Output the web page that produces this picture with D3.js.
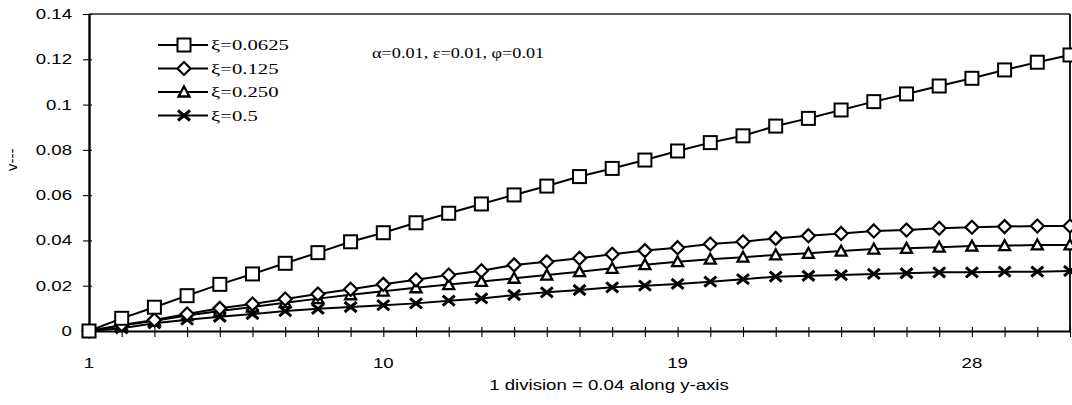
<!DOCTYPE html>
<html><head><meta charset="utf-8">
<script src="https://cdn.jsdelivr.net/npm/d3@7"></script>
<style>html,body{margin:0;padding:0;background:#fff;}svg{display:block;}</style>
</head><body>
<svg id="c" width="1072" height="405"></svg>
<script>
const categories = [1,2,3,4,5,6,7,8,9,10,11,12,13,14,15,16,17,18,19,20,21,22,23,24,25,26,27,28,29,30,31];
const xTickLabels = [1,10,19,28];
const yTickValues = [0,0.02,0.04,0.06,0.08,0.1,0.12,0.14];
const yTickLabels = ["0","0.02","0.04","0.06","0.08","0.1","0.12","0.14"];
const seriesNames = ["ξ=0.0625","ξ=0.125","ξ=0.250","ξ=0.5"];
const xi0625 = [0,0.0056,0.0105,0.0156,0.0206,0.0252,0.0299,0.0346,0.0394,0.0434,0.0478,0.052,0.0561,0.0601,0.064,0.0682,0.0718,0.0755,0.0795,0.0832,0.0862,0.0905,0.0939,0.0976,0.1013,0.1047,0.1082,0.1116,0.1153,0.1187,0.1219];
const xi125 = [0,0.0027,0.0049,0.0075,0.0100,0.0119,0.0141,0.0163,0.0184,0.0206,0.0226,0.0247,0.0266,0.0292,0.0306,0.0321,0.0339,0.0355,0.0368,0.0384,0.0394,0.0409,0.0421,0.0431,0.0442,0.0446,0.0454,0.0458,0.0461,0.0464,0.0464];
const xi250 = [0,0.0024,0.0045,0.0068,0.0088,0.0106,0.0125,0.0143,0.0160,0.0176,0.0191,0.0205,0.0219,0.0233,0.0247,0.0262,0.0277,0.0293,0.0306,0.0317,0.0326,0.0336,0.0343,0.0353,0.0362,0.0365,0.0370,0.0375,0.0377,0.0380,0.0380];
const xi5 = [0,0.0012,0.0034,0.0050,0.0063,0.0075,0.0088,0.0098,0.0106,0.0114,0.0122,0.0134,0.0144,0.0159,0.0171,0.0181,0.0193,0.0200,0.0208,0.0218,0.0229,0.0240,0.0244,0.0247,0.0252,0.0255,0.0259,0.0259,0.0262,0.0262,0.0265];
const annotation = "α=0.01, ε=0.01, φ=0.01";
const xTitle = "1 division = 0.04 along y-axis";
const yTitle = "v---";

const svg = d3.select("#c");
const L = 89, R = 1070, T = 14, B = 331;
const x = d3.scaleLinear().domain([1,31]).range([L,R]);
const y = d3.scaleLinear().domain([0,0.14]).range([B,T]);

function stretch(sel, f){ sel.each(function(){ const w=this.getComputedTextLength(); d3.select(this).attr("textLength", w*f).attr("lengthAdjust","spacingAndGlyphs"); }); return sel; }

// frame
svg.append("line").attr("x1",L).attr("x2",R).attr("y1",T).attr("y2",T).attr("stroke","#222").attr("stroke-width",1.3);
svg.append("line").attr("x1",R).attr("x2",R).attr("y1",T).attr("y2",B).attr("stroke","#000").attr("stroke-width",1.8);

// x axis
const xAxis = d3.axisBottom(x).tickValues(categories).tickSize(0).tickFormat("");
const gx = svg.append("g").attr("transform",`translate(0,${B})`).call(xAxis);
gx.select(".domain").attr("stroke","#000").attr("stroke-width",2);
gx.selectAll(".tick").append("line").attr("y1",-4).attr("y2",6).attr("stroke","#000").attr("stroke-width",1.1);
const xl = svg.append("g").selectAll("text").data(xTickLabels).join("text")
  .attr("x",d=>x(d)).attr("y",368).attr("text-anchor","middle")
  .attr("font-family","Liberation Sans, Arial, sans-serif").attr("font-size",14).attr("fill","#000").text(d=>d);
stretch(xl,1.33);

// y axis
const yAxis = d3.axisLeft(y).tickValues(yTickValues).tickSize(0).tickFormat("");
const gy = svg.append("g").attr("transform",`translate(${L},0)`).call(yAxis);
gy.select(".domain").attr("stroke","#000").attr("stroke-width",2.4);
gy.selectAll(".tick").append("line").attr("x1",-6).attr("x2",3).attr("stroke","#000").attr("stroke-width",1.1);
const yl = svg.append("g").selectAll("text").data(yTickValues).join("text")
  .attr("x",72).attr("y",d=>y(d)+5).attr("text-anchor","end")
  .attr("font-family","Liberation Sans, Arial, sans-serif").attr("font-size",14).attr("fill","#000")
  .text((d,i)=>yTickLabels[i]);
stretch(yl,1.33);

// titles
const xt = svg.append("text").attr("x",609).attr("y",390).attr("text-anchor","middle")
  .attr("font-family","Liberation Sans, Arial, sans-serif").attr("font-size",14).text(xTitle);
stretch(xt,1.33);
svg.append("text").attr("transform","translate(17,160) rotate(-90)").attr("text-anchor","middle")
  .attr("font-family","DejaVu Sans, sans-serif").attr("font-size",14).text(yTitle);

// marker drawers
const markers = {
  square: (g,cx,cy)=>g.append("rect").attr("x",cx-6.5).attr("y",cy-6.5).attr("width",13).attr("height",13).attr("fill","#fff").attr("stroke","#000").attr("stroke-width",2),
  diamond: (g,cx,cy)=>g.append("path").attr("d",`M${cx},${cy-6.5}L${cx+6.5},${cy}L${cx},${cy+6.5}L${cx-6.5},${cy}Z`).attr("fill","#fff").attr("stroke","#000").attr("stroke-width",2.2),
  triangle: (g,cx,cy)=>g.append("path").attr("d",`M${cx},${cy-5.5}L${cx+5.5},${cy+4.5}L${cx-5.5},${cy+4.5}Z`).attr("fill","#fff").attr("stroke","#000").attr("stroke-width",2.3),
  cross: (g,cx,cy)=>g.append("path").attr("d",`M${cx-6},${cy-5}L${cx+6},${cy+5}M${cx-6},${cy+5}L${cx+6},${cy-5}`).attr("fill","none").attr("stroke","#000").attr("stroke-width",3)
};
const series = [
  {name:seriesNames[0], values:xi0625, m:"square"},
  {name:seriesNames[1], values:xi125, m:"diamond"},
  {name:seriesNames[2], values:xi250, m:"triangle"},
  {name:seriesNames[3], values:xi5, m:"cross"}
];
const line = d3.line().x((d,i)=>x(categories[i])).y(d=>y(d));
const plot = svg.append("g");
series.slice().reverse().forEach(s=>{
  plot.append("path").attr("d",line(s.values)).attr("fill","none").attr("stroke","#000").attr("stroke-width",2);
});
series.slice().reverse().forEach(s=>{
  const g = plot.append("g");
  s.values.forEach((v,i)=>markers[s.m](g,x(categories[i]),y(v)));
});

// legend
const leg = svg.append("g");
series.forEach((s,i)=>{
  const cy = 45 + i*23.5;
  leg.append("line").attr("x1",158).attr("x2",208).attr("y1",cy).attr("y2",cy).attr("stroke","#000").attr("stroke-width",2);
  markers[s.m](leg,184,cy);
  const t = leg.append("text").attr("x",211).attr("y",cy+5).attr("font-family","Liberation Serif, Times New Roman, serif").attr("font-size",15).text(s.name);
  stretch(t,1.38);
});

// annotation
const an = svg.append("text").attr("x",372).attr("y",58).attr("font-family","Liberation Serif, Times New Roman, serif").attr("font-size",14).text(annotation);
stretch(an,1.3);
</script>
</body></html>
